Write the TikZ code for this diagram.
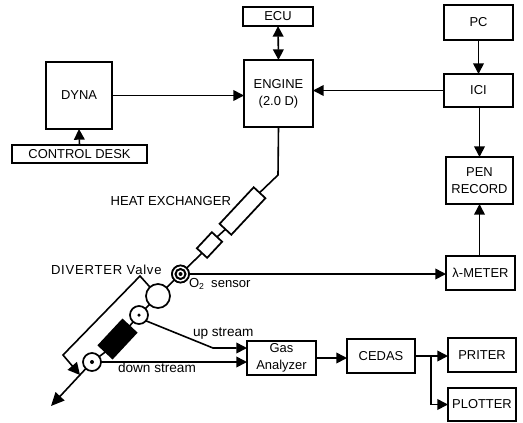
\documentclass[tikz,border=0pt]{standalone}
\usepackage{fontspec}
\setmainfont{Liberation Sans}
\usetikzlibrary{arrows.meta}
\tikzset{
  x=0.75pt,y=-0.75pt,
  bx/.style 2 args={draw=black,fill=white,line width=1.4pt,inner sep=0pt,outer sep=0pt,
    minimum width={#1*0.75pt},minimum height={#2*0.75pt},align=center,font=\fontsize{9.7}{12.5}\selectfont},
  rot/.style 2 args={draw=black,fill=white,line width=1.3pt,inner sep=0pt,outer sep=0pt,rotate=47,
    minimum width={#1*0.75pt},minimum height={#2*0.75pt}},
  circ/.style={circle,draw=black,fill=white,line width=1.3pt,inner sep=0pt,outer sep=0pt,minimum size={#1*0.75pt}},
  dotc/.style={circle,fill=black,inner sep=0pt,minimum size={#1*0.75pt}},
  wire/.style={line width=1.2pt,draw=black},
  arr/.style={wire,-{Triangle[length=8pt,width=8pt]}},
  lab/.style={inner sep=0pt,outer sep=0pt,font=\fontsize{9.8}{12}\selectfont}
}
\begin{document}
\begin{tikzpicture}
\useasboundingbox (0,0) rectangle (523,422);
% boxes
\node[bx={70}{19}] (ecu) at (278,16.5) {ECU};
\node[bx={69}{67}] (eng) at (278.5,93.5) {ENGINE\\(2.0 D)};
\node[bx={66}{67}] (dyna) at (79,95.5) {DYNA};
\node[bx={135}{18}] (desk) at (79.5,154) {CONTROL DESK};
\node[bx={69}{35}] (pc) at (478.5,22.5) {PC};
\node[bx={69}{33}] (ici) at (478.5,90.5) {ICI};
\node[bx={67}{47}] (pen) at (479.5,180.5) {PEN\\RECORD};
\node[bx={69}{34}] (lam) at (480.5,273) {λ-METER};
\node[bx={69}{34}] (gas) at (281.5,358) {Gas\\Analyzer};
\node[bx={68}{34}] (ced) at (381,356) {CEDAS};
\node[bx={68}{34}] (pri) at (482,355) {PRITER};
\node[bx={68}{33}] (plo) at (482,404.5) {PLOTTER};
% exhaust line
\coordinate (bend) at (278,175);
\coordinate (out) at (51,406);
\node[rot={50}{16}] (hx) at (242.5,211) {};
\node[rot={22}{14}] (hxb) at (209.5,245) {};
\node[circ=17] (o2) at (180.5,274) {};
\node[circ=24] (valve) at (158,296) {};
\node[circ=18] (up) at (139,315) {};
\node[rot={35}{19},fill=black] (blk) at (117.5,339) {};
\node[circ=18] (down) at (92,362) {};
\draw[wire] (eng.south) -- (bend) -- (hx.east);
\draw[wire] (hx.west) -- (hxb.east);
\draw[wire] (hxb.west) -- (o2);
\draw[wire] (o2) -- (valve);
\draw[wire] (valve) -- (up);
\draw[wire] (up) -- (blk.east);
\draw[wire] (blk.west) -- (down);
\draw[wire,-{Triangle[length=10pt,width=9pt]}] (down) -- (out);
% redraw markers on top of the line
\node[circ=17] at (o2) {};
\node[circ=10,line width=1.5pt] at (o2) {};
\node[dotc=4] at (o2) {};
\node[dotc=3.5] at (up) {};
\node[dotc=4] at (down) {};
% bracket
\coordinate (bt) at (140,276);
\coordinate (bb) at (63,355);
\coordinate (bend2) at (213,348);
\coordinate (gu) at (247,348);
\coordinate (gd) at (247,362);
\coordinate (pribr) at (431,355);
\draw[wire,-{Triangle[length=9pt,width=9pt]}] (valve) -- (bt) -- (bb) -- (80,375);
\draw[arr] (up.-40) -- (bend2) -- (gu);
\draw[arr] (down.east) -- (gd);
\draw[arr] (o2.east) -- (lam.west |- o2.east);
% signal connectors
\draw[wire,{Triangle[length=8pt,width=8pt]}-{Triangle[length=8pt,width=8pt]}] (ecu.south) -- (eng.north);
\draw[arr] (dyna.east) -- (dyna.east -| eng.west);
\draw[arr] (desk.north) -- (dyna.south);
\draw[arr] (pc.south) -- (ici.north);
\draw[arr] (ici.west) -- (ici.west -| eng.east);
\draw[arr] (ici.south -| pen.north) -- (pen.north);
\draw[arr] (lam.north -| pen.south) -- (pen.south);
\draw[arr] (gas.east) -- (gas.east -| ced.west);
\draw[arr] (ced.east) -- (ced.east -| pri.west);
\draw[arr] (pribr) -- (pribr |- plo.west) -- (plo.west);
% labels
\node[lab,anchor=east] (lhx) at (231,201) {HEAT EXCHANGER};
\node[lab,anchor=west] (ldv) at (51,270) {\addfontfeature{LetterSpace=6}DIVERTER Valve};
\node[lab,anchor=west] (lo2) at (189,284) {O\raisebox{-1.5pt}{\fontsize{6.5}{7}\selectfont 2}\ \ sensor};
\node[lab,anchor=west,font=\fontsize{10.2}{12}\selectfont] (lup) at (193,334) {up stream};
\node[lab,anchor=west,font=\fontsize{10.2}{12}\selectfont] (ldn) at (118,368) {down stream};
\end{tikzpicture}
\end{document}
